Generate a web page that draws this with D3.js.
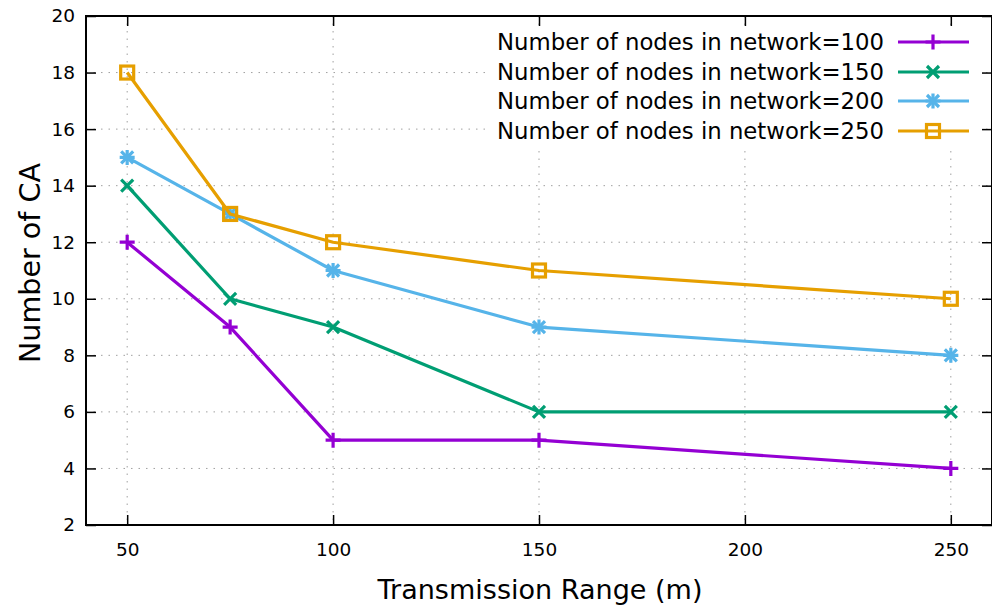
<!DOCTYPE html>
<html><head><meta charset="utf-8">
<script src="https://cdn.jsdelivr.net/npm/d3@7"></script>
<style>body{margin:0;background:#fff}svg{display:block}text{font-family:"DejaVu Sans",Verdana,sans-serif;fill:#000}</style>
</head><body><svg id="c" width="992" height="607"></svg>
<script>
const xValues = [50, 75, 100, 150, 250];
const seriesNames = ["Number of nodes in network=100","Number of nodes in network=150","Number of nodes in network=200","Number of nodes in network=250"];
const nodes100 = [12, 9, 5, 5, 4];
const nodes150 = [14, 10, 9, 6, 6];
const nodes200 = [15, 13, 11, 9, 8];
const nodes250 = [18, 13, 12, 11, 10];
const xTicks = [50, 100, 150, 200, 250];
const yTicks = [2, 4, 6, 8, 10, 12, 14, 16, 18, 20];
const colors = ["#9400d3", "#009e73", "#56b4e9", "#e69f00"];
const markers = ["plus", "cross", "star", "square"];
const seriesValues = [nodes100, nodes150, nodes200, nodes250];

const svg = d3.select("#c");
const L = 86, R = 992, T = 16, B = 525;
const x = d3.scaleLinear().domain([40, 260]).range([L, R]);
const y = d3.scaleLinear().domain([2, 20]).range([B, T]);

// grid
const g = svg.append("g");
g.selectAll("line.gy").data(yTicks.slice(1, -1)).join("line")
  .attr("x1", L).attr("x2", R).attr("y1", d => y(d)).attr("y2", d => y(d))
  .attr("stroke", "#a0a0a0").attr("stroke-width", 1).attr("stroke-dasharray", "1.5,6");
g.selectAll("line.gx").data(xTicks).join("line")
  .attr("y1", T).attr("y2", B).attr("x1", d => x(d)).attr("x2", d => x(d))
  .attr("stroke", "#a0a0a0").attr("stroke-width", 1).attr("stroke-dasharray", "1.5,6");

// axes
const xAxis = svg.append("g").attr("transform", `translate(0,${B})`)
  .call(d3.axisBottom(x).tickValues(xTicks).tickSize(-10).tickPadding(18).tickFormat(d3.format("d")));
const xAxisTop = svg.append("g").attr("transform", `translate(0,${T})`)
  .call(d3.axisTop(x).tickValues(xTicks).tickSize(-10).tickFormat(""));
const yAxis = svg.append("g").attr("transform", `translate(${L},0)`)
  .call(d3.axisLeft(y).tickValues(yTicks).tickSize(-10).tickPadding(11).tickFormat(d3.format("d")));
const yAxisR = svg.append("g").attr("transform", `translate(${R},0)`)
  .call(d3.axisRight(y).tickValues(yTicks).tickSize(-10).tickFormat(""));
[xAxis, xAxisTop, yAxis, yAxisR].forEach(a => {
  a.select(".domain").remove();
  a.selectAll(".tick line").attr("stroke", "#000").attr("stroke-width", 1.5);
  a.selectAll("text").style("font-size", "18.5px").attr("fill", "#111");
});
svg.append("rect").attr("x", L).attr("y", T).attr("width", R - L).attr("height", B - T)
  .attr("fill", "none").attr("stroke", "#000").attr("stroke-width", 2);

// legend background
svg.append("rect").attr("x", 490).attr("y", 26).attr("width", 490).attr("height", 119).attr("fill", "#fff");

function drawMarker(sel, type, color) {
  const s = 7.5;
  if (type === "plus" || type === "star") {
    sel.append("path").attr("d", `M${-s},0H${s}M0,${-s}V${s}`).attr("stroke", color).attr("stroke-width", 3.2).attr("fill", "none");
  }
  if (type === "cross" || type === "star") {
    const c = 6;
    sel.append("path").attr("d", `M${-c},${-c}L${c},${c}M${-c},${c}L${c},${-c}`).attr("stroke", color).attr("stroke-width", 3.2).attr("fill", "none");
  }
  if (type === "square") {
    sel.append("rect").attr("x", -6.5).attr("y", -6.5).attr("width", 13).attr("height", 13)
      .attr("stroke", color).attr("stroke-width", 3.2).attr("fill", "none");
  }
}

const line = d3.line().x((d, i) => x(xValues[i])).y(d => y(d));
seriesValues.forEach((vals, k) => {
  svg.append("path").datum(vals).attr("d", line).attr("fill", "none")
    .attr("stroke", colors[k]).attr("stroke-width", 3.2).attr("stroke-linejoin", "round");
  vals.forEach((v, i) => {
    const m = svg.append("g").attr("transform", `translate(${x(xValues[i])},${y(v)})`);
    drawMarker(m, markers[k], colors[k]);
  });
});

// legend
const legendY = [42, 72, 101, 131];
seriesNames.forEach((name, k) => {
  const ly = legendY[k];
  svg.append("text").attr("x", 884).attr("y", ly).attr("dy", "0.36em").attr("text-anchor", "end")
    .style("font-size", "23.5px").attr("textLength", 387).attr("lengthAdjust", "spacingAndGlyphs").text(name);
  svg.append("line").attr("x1", 898).attr("x2", 969).attr("y1", ly).attr("y2", ly)
    .attr("stroke", colors[k]).attr("stroke-width", 3.2);
  const m = svg.append("g").attr("transform", `translate(933,${ly})`);
  drawMarker(m, markers[k], colors[k]);
});

// axis titles
svg.append("text").attr("x", 540).attr("y", 599).attr("text-anchor", "middle")
  .style("font-size", "27px").attr("textLength", 325).attr("lengthAdjust", "spacingAndGlyphs").text("Transmission Range (m)");
svg.append("text").attr("transform", "translate(40,263) rotate(-90)").attr("text-anchor", "middle")
  .style("font-size", "28px").attr("textLength", 200).attr("lengthAdjust", "spacingAndGlyphs").text("Number of CA");
</script></body></html>
